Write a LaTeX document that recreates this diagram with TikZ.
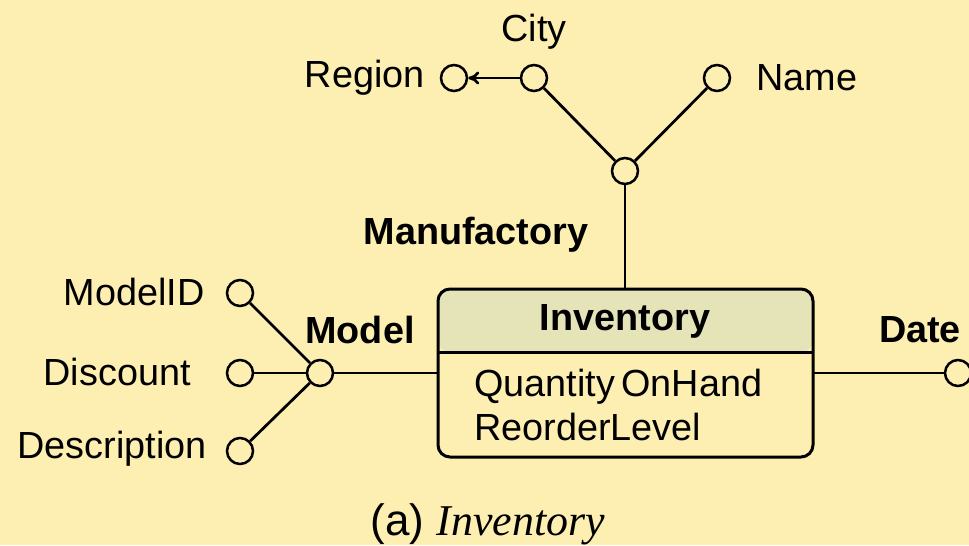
\documentclass[tikz,border=0pt]{standalone}
\usepackage{fontspec}
\setmainfont{Liberation Sans}
\newfontfamily\capserif{Liberation Serif}
\usetikzlibrary{arrows.meta}
\definecolor{paper}{RGB}{253,238,178}
\definecolor{headfill}{RGB}{229,227,184}

\begin{document}
\begin{tikzpicture}[
	attr/.style={circle, draw, line width=0.5mm, fill=paper, minimum size=0.52cm, inner sep=0pt},
	lbl/.style={inner sep=0pt, font=\fontsize{21.5}{25}\selectfont},
	blbl/.style={lbl, font=\fontsize{21.5}{25}\selectfont\bfseries},
	link/.style={line width=0.55mm}
	]
			%%%%% START %%%%%
			
			\fill[paper] (0, 0) rectangle (19.38, 10.9);
			\useasboundingbox (0, 0) rectangle (19.38, 10.9);
			
			% Inventory fact box
			\fill[headfill, rounded corners=0.24cm] (8.76, 3.86) -- (8.76, 5.12) -- (16.26, 5.12) -- (16.26, 3.86) -- cycle;
			\draw[line width=0.6mm, rounded corners=0.24cm] (8.76, 1.76) rectangle (16.26, 5.12);
			\draw[line width=0.6mm] (8.76, 3.86) -- (16.26, 3.86);
			\coordinate (boxtop) at (12.5, 5.12);
			\coordinate (boxleft) at (8.76, 3.44);
			\coordinate (boxright) at (16.26, 3.44);
			\node[blbl] (inv) at (12.5, 4.48) {Inventory};
			\node[lbl, anchor=west] (qoh) at (9.48, 3.16) {Quantity\,OnHand};
			\node[lbl, anchor=west] (rol) at (9.48, 2.36) {ReorderLevel};
			
			% Manufactory hierarchy
			\node[attr] (manuf) at (12.5, 7.48) {};
			\node[attr] (city) at (10.68, 9.34) {};
			\node[attr] (region) at (9.08, 9.34) {};
			\node[attr] (name) at (14.34, 9.34) {};
			\draw[link] (manuf) -- (boxtop);
			\draw[link] (manuf) -- (city);
			\draw[link] (manuf) -- (name);
			\draw[link, -{To[length=2.2mm, width=2.6mm]}] (city) -- (region);
			\node[lbl] (citylbl) at (10.68, 10.27) {City};
			\node[lbl, anchor=east] (regionlbl) at (8.5, 9.34) {Region};
			\node[lbl, anchor=west] (namelbl) at (15.12, 9.34) {Name};
			\node[blbl] (manuflbl) at (9.52, 6.2) {Manufactory};
			
			% Model hierarchy
			\node[attr] (model) at (6.4, 3.44) {};
			\node[attr] (modelid) at (4.8, 5.04) {};
			\node[attr] (discount) at (4.8, 3.44) {};
			\node[attr] (descr) at (4.8, 1.88) {};
			\draw[link] (model) -- (boxleft);
			\draw[link] (model) -- (modelid);
			\draw[link] (model) -- (discount);
			\draw[link] (model) -- (descr);
			\node[blbl] (modellbl) at (7.2, 4.3) {Model};
			\node[lbl, anchor=east] (modelidlbl) at (4.1, 5.06) {ModelID};
			\node[lbl, anchor=east] (discountlbl) at (3.82, 3.46) {Discount};
			\node[lbl, anchor=east] (descrlbl) at (4.14, 1.92) {Description};
			
			% Date dimension
			\node[attr] (date) at (19.16, 3.44) {};
			\draw[link] (boxright) -- (date);
			\node[blbl] (datelbl) at (18.4, 4.3) {Date};
			
			% caption
			\node[lbl, font=\fontsize{25}{29}\selectfont] (cap) at (9.76, 0.42) {(a) {\capserif\itshape Inventory}};
			
			%%%%% END %%%%%
		\end{tikzpicture}
\end{document}
